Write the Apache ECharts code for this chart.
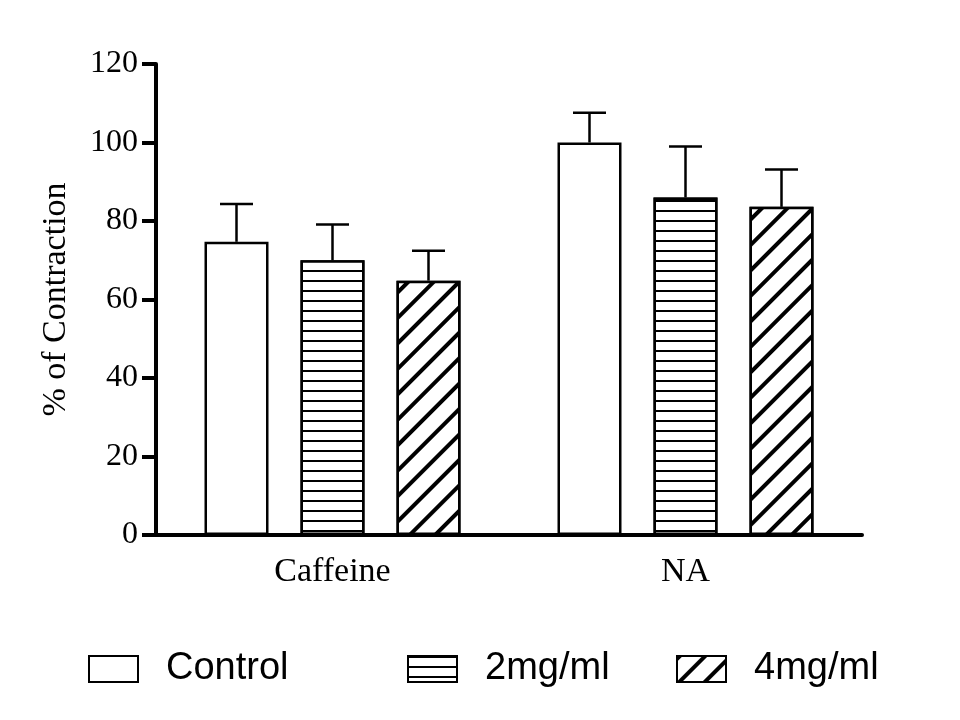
<!DOCTYPE html>
<html>
<head>
<meta charset="utf-8">
<script src="https://cdn.jsdelivr.net/npm/echarts@6/dist/echarts.min.js"></script>
<style>html,body{margin:0;padding:0;background:#fff}#c{width:960px;height:720px}</style>
</head>
<body>
<div id="c"></div>
<script>
var categories = ['Caffeine', 'NA'];
var seriesNames = ['Control', '2mg/ml', '4mg/ml'];
var controlMean = [74.7, 100];
var controlErr = [9.6, 7.6];
var mg2Mean = [70, 86];
var mg2Err = [9.1, 13];
var mg4Mean = [64.8, 83.6];
var mg4Err = [7.6, 9.5];
var yTicks = [0, 20, 40, 60, 80, 100, 120];

var BAR_W = 64;
var STEP = 96;
var serif = 'Liberation Serif';
var sans = 'Liberation Sans';

var decals = [
  null,
  { symbol: 'rect', symbolSize: 1, dashArrayX: [1, 0], dashArrayY: [2, 8], rotation: 0, color: '#000', backgroundColor: '#fff' },
  { symbol: 'rect', symbolSize: 1, dashArrayX: [1, 0], dashArrayY: [3.5, 14], rotation: -Math.PI / 4, color: '#000', backgroundColor: '#fff' }
];
var means = [controlMean, mg2Mean, mg4Mean];
var errs = [controlErr, mg2Err, mg4Err];

var series = [];
seriesNames.forEach(function (name, i) {
  var st = { color: '#fff', borderColor: '#000', borderWidth: 2.5 };
  if (decals[i]) st.decal = decals[i];
  series.push({
    name: name, type: 'bar', data: means[i], barWidth: BAR_W, barGap: '50%',
    itemStyle: st, emphasis: { disabled: true }, z: 2
  });
});
seriesNames.forEach(function (name, i) {
  var off = (i - 1) * STEP;
  series.push({
    type: 'custom', z: 3, silent: true,
    data: categories.map(function (c, k) { return [k, means[i][k], means[i][k] + errs[i][k]]; }),
    renderItem: function (params, api) {
      var p0 = api.coord([api.value(0), api.value(1)]);
      var p1 = api.coord([api.value(0), api.value(2)]);
      var x = p0[0] + off;
      var s = { stroke: '#000', lineWidth: 2.5 };
      return { type: 'group', children: [
        { type: 'line', shape: { x1: x, y1: p0[1], x2: x, y2: p1[1] }, style: s },
        { type: 'line', shape: { x1: x - 16.5, y1: p1[1], x2: x + 16.5, y2: p1[1] }, style: s }
      ]};
    }
  });
});

function legendAt(name, left) {
  return {
    data: [{ name: name, icon: 'rect' }], left: left, top: 645, orient: 'horizontal',
    itemWidth: 49, itemHeight: 26, selectedMode: false,
    textStyle: { fontFamily: sans, fontSize: 38, color: '#000', padding: [0, 0, 0, 23] }
  };
}

var chart = echarts.init(document.getElementById('c'), null, { renderer: 'canvas' });
chart.setOption({
  animation: false,
  backgroundColor: '#fff',
  legend: [legendAt('Control', 83), legendAt('2mg/ml', 402), legendAt('4mg/ml', 671)],
  grid: { left: 156, width: 706, top: 64, bottom: 185, containLabel: false },
  xAxis: {
    type: 'category', data: categories,
    axisLine: { lineStyle: { color: '#000', width: 4 } },
    axisTick: { alignWithLabel: true, length: 13, lineStyle: { color: '#000', width: 4 } },
    axisLabel: { fontFamily: serif, fontSize: 34, color: '#000', margin: 20 },
    splitLine: { show: false }
  },
  yAxis: {
    type: 'value', min: 0, max: 120, interval: 20,
    name: '% of Contraction', nameLocation: 'middle', nameRotate: 90, nameGap: 83,
    nameTextStyle: { fontFamily: serif, fontSize: 34, color: '#000' },
    axisLine: { show: true, lineStyle: { color: '#000', width: 4 } },
    axisTick: { show: true, length: 14, lineStyle: { color: '#000', width: 4 } },
    axisLabel: { fontFamily: serif, fontSize: 32, color: '#000', margin: 18,
      formatter: function (v) { return yTicks.indexOf(v) >= 0 ? String(v) : ''; } },
    splitLine: { show: false }
  },
  series: series
});
</script>
</body>
</html>
